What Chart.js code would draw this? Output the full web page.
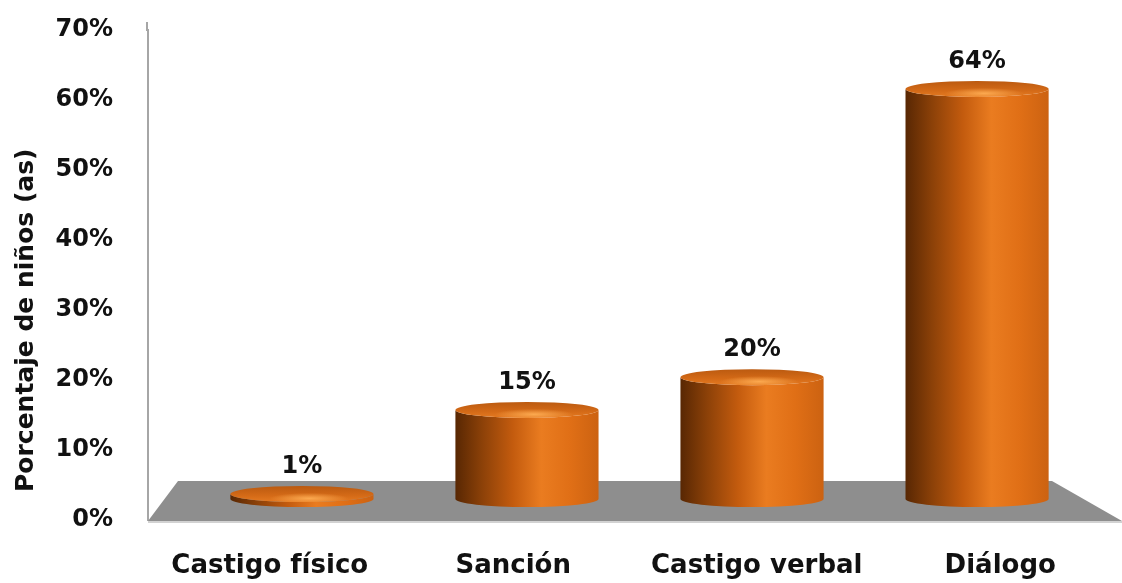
<!DOCTYPE html>
<html lang="es">
<head>
<meta charset="utf-8">
<title>Porcentaje de niños (as)</title>
<script src="https://cdn.jsdelivr.net/npm/chart.js@4.4.1/dist/chart.umd.min.js"></script>
<style>
  html, body { margin: 0; padding: 0; background: #fff; }
  #contenedor { width: 1122px; height: 583px; position: relative; }
</style>
</head>
<body>
<div id="contenedor"><canvas id="grafico"></canvas></div>
<script>
// Datos del gráfico
const categorias = ['Castigo físico', 'Sanción', 'Castigo verbal', 'Diálogo'];
const porcentajes = [1, 15, 20, 64];
const ticksY = [0, 10, 20, 30, 40, 50, 60, 70];
const tituloY = 'Porcentaje de niños (as)';

const FUENTE = '"DejaVu Sans", sans-serif';
const TEXTO = '#111111';

// Dibuja un cilindro naranja entre la base (piso) y la tapa
function dibujarCilindro(ctx, x, tope, base, rx, ry) {
    const lateral = ctx.createLinearGradient(x - rx, 0, x + rx, 0);
    lateral.addColorStop(0, '#582703');
    lateral.addColorStop(0.18, '#8a4008');
    lateral.addColorStop(0.4, '#c35b0e');
    lateral.addColorStop(0.6, '#ea7c20');
    lateral.addColorStop(0.8, '#e06f16');
    lateral.addColorStop(1, '#cc6211');

    ctx.save();
    ctx.fillStyle = lateral;
    ctx.beginPath();
    ctx.moveTo(x - rx, tope);
    ctx.lineTo(x - rx, base);
    ctx.ellipse(x, base, rx, ry, 0, Math.PI, 0, true);
    ctx.lineTo(x + rx, tope);
    ctx.ellipse(x, tope, rx, ry, 0, 0, Math.PI, false);
    ctx.closePath();
    ctx.fill();

    // tapa superior
    const tapa = ctx.createLinearGradient(0, tope - ry, 0, tope + ry);
    tapa.addColorStop(0, '#bb5a10');
    tapa.addColorStop(0.6, '#d46a17');
    tapa.addColorStop(1, '#e47a22');
    ctx.fillStyle = tapa;
    ctx.beginPath();
    ctx.ellipse(x, tope, rx, ry, 0, 0, Math.PI * 2);
    ctx.fill();

    // brillo de la tapa
    ctx.clip();
    ctx.translate(x + rx * 0.1, tope + ry * 0.55);
    ctx.scale(1, 0.14);
    const brillo = ctx.createRadialGradient(0, 0, 0, 0, 0, rx * 0.55);
    brillo.addColorStop(0, 'rgba(255, 175, 85, 0.9)');
    brillo.addColorStop(1, 'rgba(255, 175, 85, 0)');
    ctx.fillStyle = brillo;
    ctx.fillRect(-rx, -rx, rx * 2, rx * 2);
    ctx.restore();
}

// Piso gris, cilindros, etiquetas de valor y título del eje Y
const cilindros = {
    id: 'cilindros',
    beforeDatasetsDraw(chart) {
        const { ctx, chartArea: a, scales } = chart;
        const frente = scales.y.getPixelForValue(0) + 1;
        const fondo = frente - 40;
        ctx.save();
        // prolongación del eje vertical hacia arriba
        ctx.fillStyle = '#a6a6a6';
        ctx.fillRect(a.left - 2, a.top - 8, 2, 9);
        ctx.fillStyle = '#8e8e8e';
        ctx.beginPath();
        ctx.moveTo(a.left, frente);
        ctx.lineTo(a.left + 30, fondo);
        ctx.lineTo(a.right - 70, fondo);
        ctx.lineTo(a.right, frente);
        ctx.closePath();
        ctx.fill();
        ctx.fillStyle = '#d2d2d2';
        ctx.fillRect(a.left, frente, a.right - a.left, 2);
        ctx.restore();
    },
    afterDatasetsDraw(chart) {
        const { ctx, scales } = chart;
        const meta = chart.getDatasetMeta(0);
        const base = scales.y.getPixelForValue(0) - 21;
        const ry = 8;

        meta.data.forEach((barra, i) => {
            const rx = barra.width / 2;
            const tope = Math.min(barra.y, base - 5);
            dibujarCilindro(ctx, barra.x, tope, base, rx, ry);

            ctx.save();
            ctx.font = 'bold 24px ' + FUENTE;
            ctx.fillStyle = TEXTO;
            ctx.textAlign = 'center';
            ctx.textBaseline = 'middle';
            ctx.fillText(porcentajes[i] + '%', barra.x, tope - ry - 19);
            ctx.restore();
        });

        // título del eje Y (rotado)
        ctx.save();
        ctx.translate(scales.y.left + 26, scales.y.getPixelForValue(0) - 28);
        ctx.rotate(-Math.PI / 2);
        ctx.font = 'bold 25px ' + FUENTE;
        ctx.fillStyle = TEXTO;
        ctx.textAlign = 'left';
        ctx.textBaseline = 'middle';
        ctx.fillText(tituloY, 0, 0);
        ctx.restore();
    }
};

const grafico = new Chart(document.getElementById('grafico'), {
    type: 'bar',
    data: {
        labels: categorias,
        datasets: [{
            label: tituloY,
            data: porcentajes.map((v, i) => ({ x: i, y: v })),
            xAxisID: 'x2',
            yAxisID: 'y2',
            backgroundColor: 'rgba(0,0,0,0)',
            borderWidth: 0,
            categoryPercentage: 1,
            barPercentage: 0.636
        }]
    },
    options: {
        responsive: true,
        maintainAspectRatio: false,
        animation: false,
        layout: {
            padding: { top: 30, right: 0, bottom: 0, left: 0 }
        },
        plugins: {
            legend: { display: false },
            tooltip: { enabled: false }
        },
        scales: {
            // eje de categorías en el plano delantero
            x: {
                type: 'category',
                position: 'bottom',
                offset: true,
                grid: { display: false, drawTicks: false, offset: true },
                border: { display: false },
                ticks: {
                    color: TEXTO,
                    padding: 31,
                    font: { family: FUENTE, size: 26, weight: 'bold' }
                },
                afterFit: (s) => { s.height = 63; }
            },
            y: {
                type: 'linear',
                position: 'left',
                min: ticksY[0],
                max: ticksY[ticksY.length - 1],
                grid: { display: false, drawTicks: false },
                border: { display: true, color: '#a6a6a6', width: 2 },
                ticks: {
                    color: TEXTO,
                    padding: 35,
                    font: { family: FUENTE, size: 24, weight: 'bold' },
                    callback: (v) => v + '%'
                },
                afterBuildTicks: (s) => { s.ticks = ticksY.map(v => ({ value: v })); },
                afterFit: (s) => {
                    s.width = 148;
                    s.paddingTop = 0;
                    s.paddingBottom = 0;
                }
            },
            // ejes ocultos del plano medio donde se apoyan los cilindros
            x2: {
                type: 'linear',
                display: false,
                offset: false,
                min: -0.684,
                max: 3.644,
                afterBuildTicks: (s) => { s.ticks = categorias.map((c, i) => ({ value: i })); }
            },
            y2: {
                type: 'linear',
                display: false,
                min: -1.8,
                max: 73
            }
        }
    },
    plugins: [cilindros]
});
</script>
</body>
</html>
